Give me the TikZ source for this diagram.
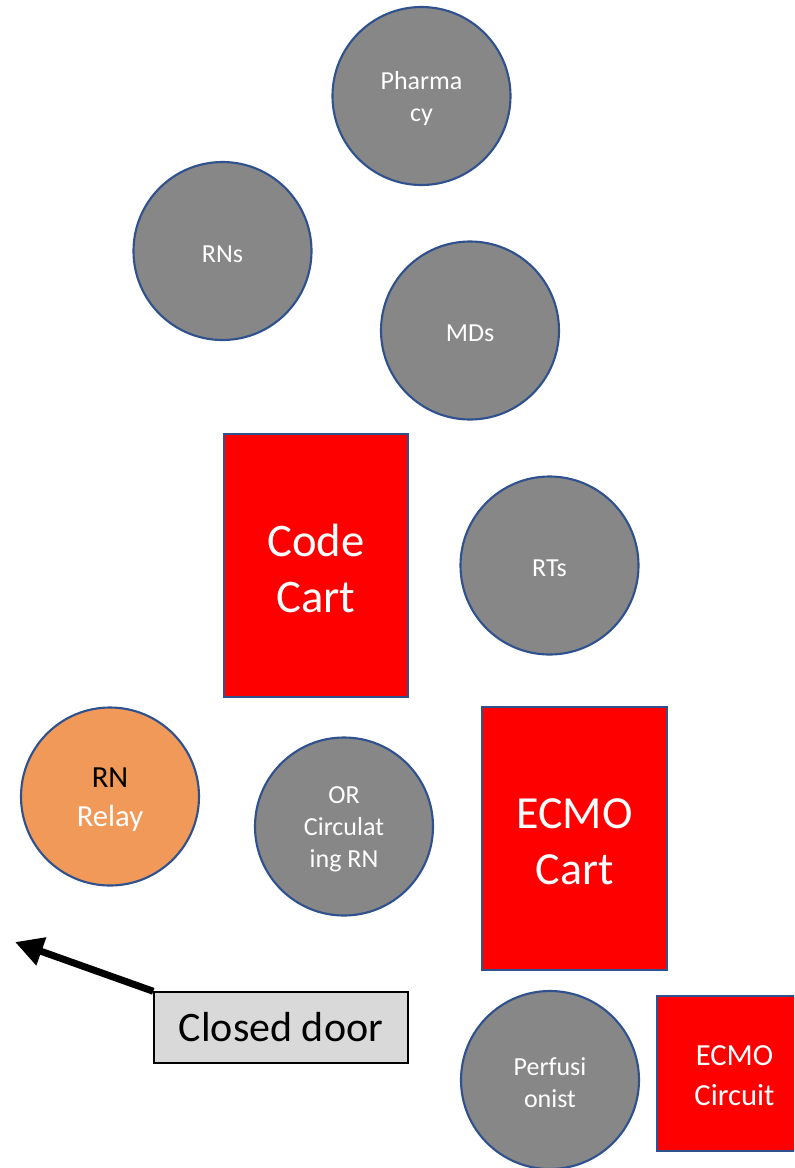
\documentclass[tikz,border=0pt]{standalone}
\usepackage{fontspec}
\setmainfont{Carlito}
\usetikzlibrary{arrows.meta}
\definecolor{edgeblue}{HTML}{2F528F}
\definecolor{staffgray}{HTML}{878787}
\definecolor{relayorange}{HTML}{F09959}
\definecolor{cartred}{HTML}{FF0000}
\definecolor{doorgray}{HTML}{D9D9D9}
\tikzset{
  staff/.style={circle, draw=edgeblue, line width=1.6pt, fill=staffgray, minimum size=133.5pt, inner sep=0pt},
  cart/.style={rectangle, draw=edgeblue, line width=1.6pt, fill=cartred, inner sep=0pt},
  intext/.style={align=center, text=white, inner sep=0pt, yshift=-2.25pt, font=\fontsize{19.5}{24}\selectfont},
  carttext/.style={intext, yshift=0pt, font=\fontsize{35}{42.5}\selectfont},
}
\begin{document}
\begin{tikzpicture}[x=0.75pt,y=-0.75pt]
\useasboundingbox (0,0) rectangle (794,1168);
\clip (0,0) rectangle (794,1168);
\node[staff, label={[intext, name=pharmt]center:Pharma\\cy}] (pharm) at (421.5,96) {};
\node[staff, label={[intext, name=rnst]center:RNs}] (rns) at (222.5,251) {};
\node[staff, label={[intext, name=mdst]center:MDs}] (mds) at (470,330.5) {};
\node[staff, label={[intext, name=rtst]center:RTs}] (rts) at (549.5,565.5) {};
\node[cart, minimum width=138pt, minimum height=197.25pt, label={[carttext, name=codet]center:Code\\Cart}] (code) at (316,565.5) {};
\node[staff, fill=relayorange, label={[intext, font=\fontsize{23}{29.5}\selectfont, name=relayt]center:\textcolor{black}{RN}\\Relay}] (relay) at (110,796.5) {};
\node[staff, label={[intext, name=orrnt]center:OR\\Circulat\\ing RN}] (orrn) at (344,826.5) {};
\node[cart, minimum width=138.75pt, minimum height=197.25pt, label={[carttext, font=\fontsize{34.5}{42}\selectfont, name=ecmocartt]center:ECMO\\Cart}] (ecmocart) at (574.5,838.5) {};
\node[staff, label={[intext, name=perft]center:Perfusi\\onist}] (perf) at (550,1080) {};
\node[cart, minimum width=116.25pt, minimum height=116.25pt, label={[intext, yshift=0.75pt, font=\fontsize{23}{30.5}\selectfont, name=circuitt]center:ECMO\\Circuit}] (circuit) at (734.5,1073.5) {};
\node[rectangle, draw=black, line width=1.1pt, fill=doorgray, minimum width=190.5pt, minimum height=53.25pt, inner sep=0pt, font=\fontsize{31.5}{38}\selectfont] (door) at (281,1027.5) {Closed door};
\coordinate (exit) at (15,942);
\draw[line width=5.25pt, -{Triangle[length=21pt,width=21pt]}] (door.north west) -- (exit);
\end{tikzpicture}
\end{document}
